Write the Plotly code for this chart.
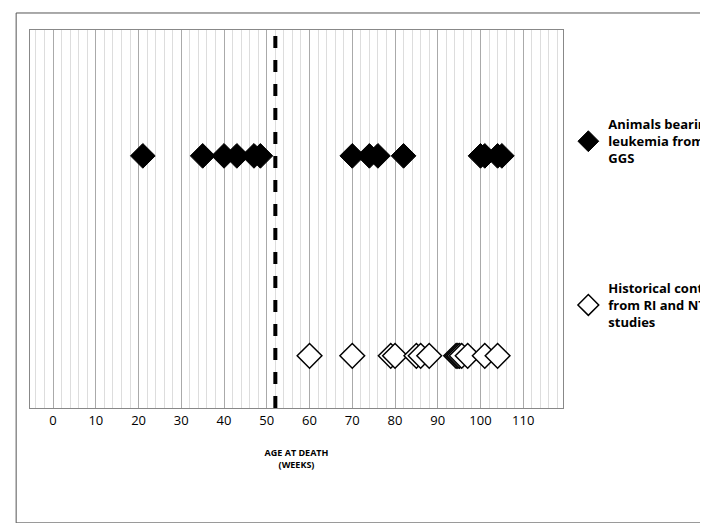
import plotly.graph_objects as go

leukemia_weeks = [21, 35, 40, 43, 47, 48.5, 70, 74, 76, 82, 100, 101, 104, 105]
control_weeks = [60, 70, 79, 80, 85, 86, 88, 94.3, 94.7, 95.1, 95.6, 97, 101, 104]
x_ticks = [0, 10, 20, 30, 40, 50, 60, 70, 80, 90, 100, 110]
cutoff_week = 52

fig = go.Figure()
fig.add_trace(go.Scatter(x=leukemia_weeks, y=[0.667]*len(leukemia_weeks), mode="markers",
    name="<b>Animals bearing<br>leukemia from<br>GGS</b>", legendgroup="a",
    marker=dict(symbol="diamond", size=19, color="black", line=dict(color="black", width=1))))
fig.add_trace(go.Scatter(x=control_weeks, y=[0.138]*len(control_weeks), mode="markers",
    name="<b>Historical controls<br>from RI and NTP<br>studies</b>", legendgroup="b",
    marker=dict(symbol="diamond", size=19, color="white", line=dict(color="black", width=1.5))))

fig.add_shape(type="line", x0=cutoff_week, x1=cutoff_week, y0=0, y1=1, yref="y",
              line=dict(color="black", width=4, dash="dash"))
fig.add_shape(type="rect", xref="paper", yref="paper", x0=-0.026, x1=1.272, y0=-0.304, y1=1.045,
              line=dict(color="#555", width=1))

fig.update_layout(
    width=708, height=523, paper_bgcolor="white", plot_bgcolor="white",
    margin=dict(l=22, r=153, t=22, b=123, autoexpand=False),
    font=dict(family="Open Sans, Liberation Sans", size=12, color="black"),
    legend=dict(x=1.01, y=0.79, xanchor="left", yanchor="top", tracegroupgap=110,
                font=dict(size=13), bgcolor="rgba(0,0,0,0)"),
    xaxis=dict(range=[-5.4, 119.3], tickvals=x_ticks, ticks="", showline=True, linecolor="#888",
               showgrid=True, gridcolor="#aaa", gridwidth=1.2,
               minor=dict(dtick=2, showgrid=True, gridcolor="#ddd", gridwidth=1),
               tickfont=dict(size=13), zeroline=False, automargin=False,
               title=dict(text="<b>AGE AT DEATH<br>(WEEKS)</b>", font=dict(size=9), standoff=22)),
    yaxis=dict(range=[0, 1], showgrid=False, automargin=False),
)
fig.update_xaxes(mirror=True)
fig.update_yaxes(showline=True, linecolor="#888", mirror=True, visible=True, showticklabels=False, ticks="")
fig.write_html("out.html")
